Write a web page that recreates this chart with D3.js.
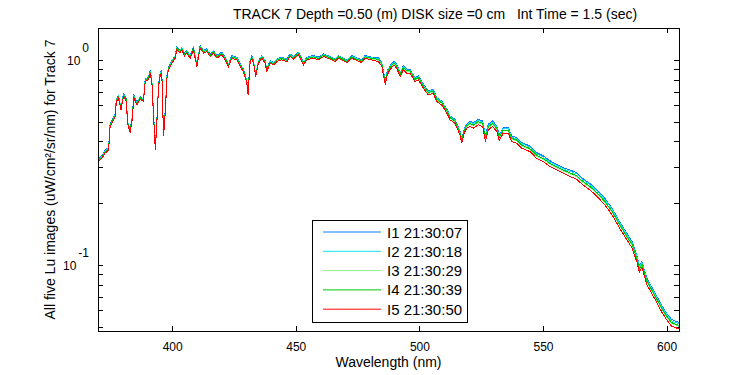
<!DOCTYPE html>
<html lang="en">
<head>
    <meta charset="UTF-8">
    <title>Lu spectra, track 7</title>
    <script src="https://cdn.jsdelivr.net/npm/d3@7"></script>
    <style>
        body { margin: 0; background: #fff; }
        svg { font-family: "Liberation Sans", Arial, sans-serif; }
        .frame, .tick line { stroke: black; shape-rendering: crispEdges; }
        .domain { display: none; }
        .spec { fill: none; stroke-width: 1; shape-rendering: crispEdges; }
    </style>
</head>
<body>
<script>
    // wavelength grid (nm) shared by the five Lu images
    const wavelength = [
        370.5, 371.6, 372.9, 374.3, 374.9, 377.0, 377.4, 378.3, 379.3, 380.3,
        381.3, 382.1, 383.0, 384.0, 384.4, 385.7, 387.1, 388.4, 389.1, 390.4,
        391.1, 391.8, 392.4, 393.2, 393.8, 394.5, 395.2, 395.8, 396.5, 397.2,
        397.9, 398.5, 399.9, 401.2, 401.9, 403.2, 403.9, 405.0, 405.9, 407.3,
        408.6, 410.0, 411.3, 412.7, 414.0, 415.4, 416.7, 418.1, 420.1, 421.4,
        422.8, 424.1, 426.2, 427.5, 428.8, 430.2, 430.7, 431.5, 432.2, 432.9,
        433.8, 434.9, 436.3, 437.6, 438.3, 439.6, 441.0, 442.3, 444.3, 446.4,
        447.7, 449.0, 451.1, 453.1, 454.5, 457.1, 459.1, 461.2, 463.9, 465.9,
        467.2, 470.6, 472.6, 474.7, 476.7, 478.0, 480.7, 483.4, 484.8, 485.7,
        486.2, 487.0, 488.1, 489.7, 490.8, 492.2, 493.5, 494.9, 496.2, 498.2,
        499.6, 501.6, 503.6, 505.6, 507.0, 509.0, 511.1, 512.4, 514.4, 516.4,
        517.1, 518.1, 519.1, 520.5, 521.8, 523.8, 525.6, 526.7, 527.9, 529.6,
        531.3, 532.3, 533.9, 535.9, 537.3, 539.4, 541.4, 544.7, 547.4, 550.1,
        552.8, 555.5, 558.2, 560.9, 563.6, 566.0, 569.0, 572.0, 575.0, 578.0,
        581.0, 584.0, 586.0, 588.0, 589.0, 590.0, 592.0, 595.0, 598.0, 600.0,
        602.0, 605.0
    ];

    const lu1 = [
        0.332, 0.341, 0.362, 0.375, 0.487, 0.545, 0.645, 0.670, 0.587, 0.682,
        0.657, 0.496, 0.455, 0.545, 0.678, 0.621, 0.662, 0.645, 0.808, 0.823,
        0.887, 0.793, 0.567, 0.375, 0.505, 0.763, 0.870, 0.887, 0.436, 0.567,
        0.838, 0.921, 0.992, 1.050, 1.153, 1.110, 1.153, 1.077, 1.110, 1.050,
        1.153, 0.956, 1.174, 1.110, 1.131, 1.069, 1.110, 1.050, 1.090, 1.030,
        0.956, 1.050, 1.030, 0.956, 0.903, 0.793, 0.695, 0.992, 1.050, 0.992,
        0.854, 0.992, 1.050, 0.992, 0.903, 0.992, 0.973, 1.010, 1.030, 1.010,
        1.069, 1.038, 1.090, 0.973, 1.030, 1.050, 1.030, 1.069, 1.038, 1.010,
        1.050, 0.999, 1.050, 1.022, 0.999, 1.050, 1.030, 1.025, 0.970, 0.851,
        0.789, 0.883, 0.934, 0.988, 0.952, 0.866, 0.934, 0.900, 0.900, 0.819,
        0.835, 0.761, 0.705, 0.719, 0.654, 0.630, 0.575, 0.533, 0.512, 0.450,
        0.410, 0.459, 0.485, 0.504, 0.494, 0.513, 0.504, 0.426, 0.486, 0.504,
        0.476, 0.430, 0.468, 0.468, 0.426, 0.417, 0.395, 0.380, 0.353, 0.340,
        0.322, 0.310, 0.298, 0.290, 0.282, 0.264, 0.249, 0.231, 0.211, 0.188,
        0.162, 0.142, 0.130, 0.111, 0.0989, 0.104, 0.0860, 0.0742, 0.0634, 0.0581,
        0.0541, 0.0524
    ];

    const lu2 = [
        0.329, 0.338, 0.359, 0.372, 0.483, 0.541, 0.640, 0.664, 0.583, 0.677,
        0.652, 0.493, 0.452, 0.541, 0.672, 0.616, 0.657, 0.640, 0.801, 0.817,
        0.880, 0.787, 0.562, 0.372, 0.501, 0.757, 0.864, 0.880, 0.432, 0.562,
        0.832, 0.914, 0.984, 1.041, 1.144, 1.102, 1.144, 1.069, 1.102, 1.041,
        1.144, 0.948, 1.165, 1.102, 1.122, 1.061, 1.102, 1.041, 1.081, 1.022,
        0.948, 1.041, 1.022, 0.948, 0.896, 0.787, 0.690, 0.984, 1.041, 0.984,
        0.847, 0.984, 1.041, 0.984, 0.896, 0.984, 0.966, 1.003, 1.022, 1.003,
        1.061, 1.030, 1.081, 0.966, 1.022, 1.041, 1.022, 1.061, 1.030, 1.003,
        1.041, 0.991, 1.041, 1.014, 0.991, 1.041, 1.022, 1.015, 0.960, 0.842,
        0.781, 0.875, 0.925, 0.978, 0.943, 0.858, 0.925, 0.891, 0.891, 0.811,
        0.827, 0.753, 0.699, 0.712, 0.648, 0.624, 0.569, 0.528, 0.507, 0.446,
        0.406, 0.454, 0.480, 0.497, 0.487, 0.506, 0.497, 0.420, 0.479, 0.497,
        0.469, 0.424, 0.461, 0.461, 0.420, 0.412, 0.390, 0.375, 0.348, 0.335,
        0.317, 0.306, 0.294, 0.286, 0.278, 0.261, 0.246, 0.228, 0.208, 0.186,
        0.160, 0.140, 0.128, 0.109, 0.0975, 0.103, 0.0848, 0.0731, 0.0625, 0.0572,
        0.0533, 0.0516
    ];

    const lu3 = [
        0.325, 0.334, 0.354, 0.367, 0.477, 0.533, 0.631, 0.655, 0.575, 0.667,
        0.643, 0.486, 0.446, 0.533, 0.663, 0.608, 0.648, 0.631, 0.790, 0.805,
        0.868, 0.776, 0.554, 0.367, 0.494, 0.747, 0.852, 0.868, 0.426, 0.554,
        0.821, 0.901, 0.971, 1.027, 1.128, 1.087, 1.128, 1.054, 1.087, 1.027,
        1.128, 0.935, 1.149, 1.087, 1.107, 1.046, 1.087, 1.027, 1.066, 1.008,
        0.935, 1.027, 1.008, 0.935, 0.884, 0.776, 0.680, 0.971, 1.027, 0.971,
        0.836, 0.971, 1.027, 0.971, 0.884, 0.971, 0.953, 0.989, 1.008, 0.989,
        1.046, 1.016, 1.066, 0.953, 1.008, 1.027, 1.008, 1.046, 1.016, 0.989,
        1.027, 0.978, 1.027, 1.000, 0.978, 1.027, 1.008, 0.996, 0.942, 0.826,
        0.766, 0.858, 0.907, 0.959, 0.925, 0.841, 0.907, 0.874, 0.874, 0.796,
        0.811, 0.739, 0.685, 0.698, 0.635, 0.612, 0.558, 0.518, 0.497, 0.437,
        0.398, 0.446, 0.471, 0.485, 0.476, 0.494, 0.485, 0.410, 0.467, 0.485,
        0.458, 0.414, 0.450, 0.450, 0.410, 0.402, 0.380, 0.366, 0.339, 0.327,
        0.310, 0.298, 0.287, 0.278, 0.270, 0.253, 0.239, 0.221, 0.202, 0.180,
        0.156, 0.136, 0.125, 0.106, 0.0948, 0.0999, 0.0824, 0.0711, 0.0608, 0.0556,
        0.0518, 0.0502
    ];

    const lu4 = [
        0.327, 0.336, 0.356, 0.369, 0.480, 0.537, 0.635, 0.660, 0.579, 0.672,
        0.648, 0.489, 0.449, 0.537, 0.668, 0.612, 0.653, 0.635, 0.796, 0.811,
        0.874, 0.782, 0.558, 0.369, 0.497, 0.752, 0.858, 0.874, 0.429, 0.558,
        0.826, 0.907, 0.977, 1.034, 1.136, 1.094, 1.136, 1.062, 1.094, 1.034,
        1.136, 0.942, 1.157, 1.094, 1.114, 1.054, 1.094, 1.034, 1.074, 1.015,
        0.942, 1.034, 1.015, 0.942, 0.890, 0.782, 0.685, 0.977, 1.034, 0.977,
        0.841, 0.977, 1.034, 0.977, 0.890, 0.977, 0.959, 0.996, 1.015, 0.996,
        1.054, 1.023, 1.074, 0.959, 1.015, 1.034, 1.015, 1.054, 1.023, 0.996,
        1.034, 0.985, 1.034, 1.007, 0.985, 1.034, 1.015, 1.006, 0.951, 0.834,
        0.774, 0.866, 0.916, 0.969, 0.934, 0.850, 0.916, 0.883, 0.883, 0.804,
        0.819, 0.746, 0.692, 0.705, 0.642, 0.618, 0.564, 0.523, 0.502, 0.442,
        0.402, 0.450, 0.476, 0.490, 0.480, 0.499, 0.490, 0.414, 0.472, 0.490,
        0.463, 0.418, 0.454, 0.454, 0.414, 0.406, 0.384, 0.369, 0.343, 0.330,
        0.313, 0.301, 0.290, 0.281, 0.272, 0.256, 0.241, 0.224, 0.204, 0.182,
        0.157, 0.137, 0.126, 0.107, 0.0957, 0.101, 0.0832, 0.0718, 0.0614, 0.0562,
        0.0523, 0.0506
    ];

    const lu5 = [
        0.322, 0.331, 0.351, 0.364, 0.473, 0.529, 0.626, 0.650, 0.570, 0.662,
        0.638, 0.482, 0.442, 0.529, 0.658, 0.603, 0.643, 0.626, 0.784, 0.799,
        0.861, 0.770, 0.550, 0.364, 0.490, 0.741, 0.845, 0.861, 0.423, 0.550,
        0.814, 0.894, 0.963, 1.019, 1.119, 1.078, 1.119, 1.046, 1.078, 1.019,
        1.119, 0.928, 1.140, 1.078, 1.098, 1.038, 1.078, 1.019, 1.058, 1.000,
        0.928, 1.019, 1.000, 0.928, 0.877, 0.770, 0.675, 0.963, 1.019, 0.963,
        0.829, 0.963, 1.019, 0.963, 0.877, 0.963, 0.945, 0.981, 1.000, 0.981,
        1.038, 1.008, 1.058, 0.945, 1.000, 1.019, 1.000, 1.038, 1.008, 0.981,
        1.019, 0.970, 1.019, 0.992, 0.970, 1.019, 1.000, 0.981, 0.928, 0.814,
        0.755, 0.845, 0.894, 0.945, 0.911, 0.829, 0.894, 0.861, 0.861, 0.784,
        0.799, 0.728, 0.675, 0.688, 0.626, 0.603, 0.550, 0.510, 0.490, 0.431,
        0.392, 0.439, 0.464, 0.473, 0.464, 0.482, 0.473, 0.400, 0.456, 0.473,
        0.447, 0.404, 0.439, 0.439, 0.400, 0.392, 0.371, 0.357, 0.331, 0.319,
        0.302, 0.291, 0.280, 0.270, 0.262, 0.246, 0.232, 0.215, 0.196, 0.175,
        0.151, 0.132, 0.121, 0.103, 0.092, 0.097, 0.080, 0.069, 0.059, 0.054,
        0.0503, 0.0487
    ];

    const seriesLabels = ["I1 21:30:07", "I2 21:30:18", "I3 21:30:29", "I4 21:30:39", "I5 21:30:50"];
    const xTicks = [400, 450, 500, 550, 600];
    const yMajor = [0.1, 1];
    const yMinor = [0.05, 0.06, 0.07, 0.08, 0.09, 0.2, 0.3, 0.4, 0.5, 0.6, 0.7, 0.8, 0.9];

    const series = [lu1, lu2, lu3, lu4, lu5];
    const colors = ["#0a7cff", "#19e3ea", "#8cf08c", "#00c800", "#ff0000"];

    const dim = {width: 750, height: 375, top: 28, left: 98, right: 71, bottom: 44};
    const cht = {w: dim.width - dim.left - dim.right, h: dim.height - dim.top - dim.bottom};

    const svg = d3.select("body").append("svg")
        .attr("width", dim.width)
        .attr("height", dim.height);
    const chart = svg.append("g")
        .attr("transform", `translate(${[dim.left, dim.top]})`);

    const x = d3.scaleLinear().domain([370, 605]).range([0, cht.w]);
    const y = d3.scaleLog().domain([0.0476, 1.43]).range([cht.h, 0]);

    // axes, ticks pointing inwards like matlab
    const yTicks = yMinor.concat(yMajor);
    chart.append("g").attr("transform", `translate(0,${cht.h})`)
        .call(d3.axisBottom(x).tickValues(xTicks).tickFormat(d3.format("d"))
            .tickSizeInner(-5).tickSizeOuter(0).tickPadding(11))
        .selectAll("text").attr("font-size", 12).attr("fill", "black");
    chart.append("g")
        .call(d3.axisTop(x).tickValues(xTicks).tickFormat("").tickSizeInner(-5).tickSizeOuter(0));
    const yl = chart.append("g")
        .call(d3.axisLeft(y).tickValues(yTicks).tickFormat("").tickSizeInner(-5).tickSizeOuter(0));
    chart.append("g").attr("transform", `translate(${cht.w},0)`)
        .call(d3.axisRight(y).tickValues(yTicks).tickFormat("").tickSizeInner(-5).tickSizeOuter(0));

    // 10^n labels
    const expLabel = yl.selectAll(".tick").filter(d => yMajor.includes(d))
        .append("text")
        .attr("x", -9).attr("y", 5)
        .attr("text-anchor", "end")
        .attr("font-size", 12)
        .attr("fill", "black");
    expLabel.append("tspan").text("10");
    expLabel.append("tspan").attr("dx", 2).attr("dy", -13)
        .text(d => String(Math.round(Math.log10(d))));

    chart.append("clipPath").attr("id", "clip")
        .append("rect").attr("width", cht.w).attr("height", cht.h);

    const line = d3.line()
        .x((d, i) => x(wavelength[i]))
        .y(d => y(d));

    chart.append("g").attr("clip-path", "url(#clip)")
        .selectAll("path")
        .data(series)
        .join("path")
        .attr("class", "spec")
        .attr("d", line)
        .attr("stroke", (d, i) => colors[i]);

    chart.append("rect").attr("class", "frame")
        .attr("width", cht.w).attr("height", cht.h)
        .attr("fill", "none");

    // legend
    const legend = chart.append("g").attr("transform", `translate(${312 - dim.left},${220 - dim.top})`);
    legend.append("rect").attr("class", "frame")
        .attr("width", 155).attr("height", 102)
        .attr("fill", "white");
    const item = legend.selectAll("g.item")
        .data(seriesLabels)
        .join("g")
        .attr("class", "item")
        .attr("transform", (d, i) => `translate(0,${12 + i * 19.3})`);
    item.append("line")
        .attr("x1", 11).attr("x2", 69)
        .attr("stroke", (d, i) => colors[i]);
    item.append("text")
        .attr("x", 75).attr("y", 5.5)
        .attr("font-size", 15)
        .text(d => d);

    // titles
    svg.append("text")
        .attr("x", 435).attr("y", 19)
        .attr("text-anchor", "middle")
        .attr("font-size", 14)
        .style("white-space", "pre")
        .text("TRACK 7 Depth =0.50 (m) DISK size =0 cm   Int Time = 1.5 (sec)");
    svg.append("text")
        .attr("x", dim.left + cht.w / 2).attr("y", 367)
        .attr("text-anchor", "middle")
        .attr("font-size", 14)
        .text("Wavelength (nm)");
    svg.append("text")
        .attr("transform", `translate(55,${dim.top + cht.h / 2}) rotate(-90)`)
        .attr("text-anchor", "middle")
        .attr("font-size", 14)
        .text("All five Lu images (uW/cm²/sr/nm) for Track 7");
</script>
</body>
</html>
